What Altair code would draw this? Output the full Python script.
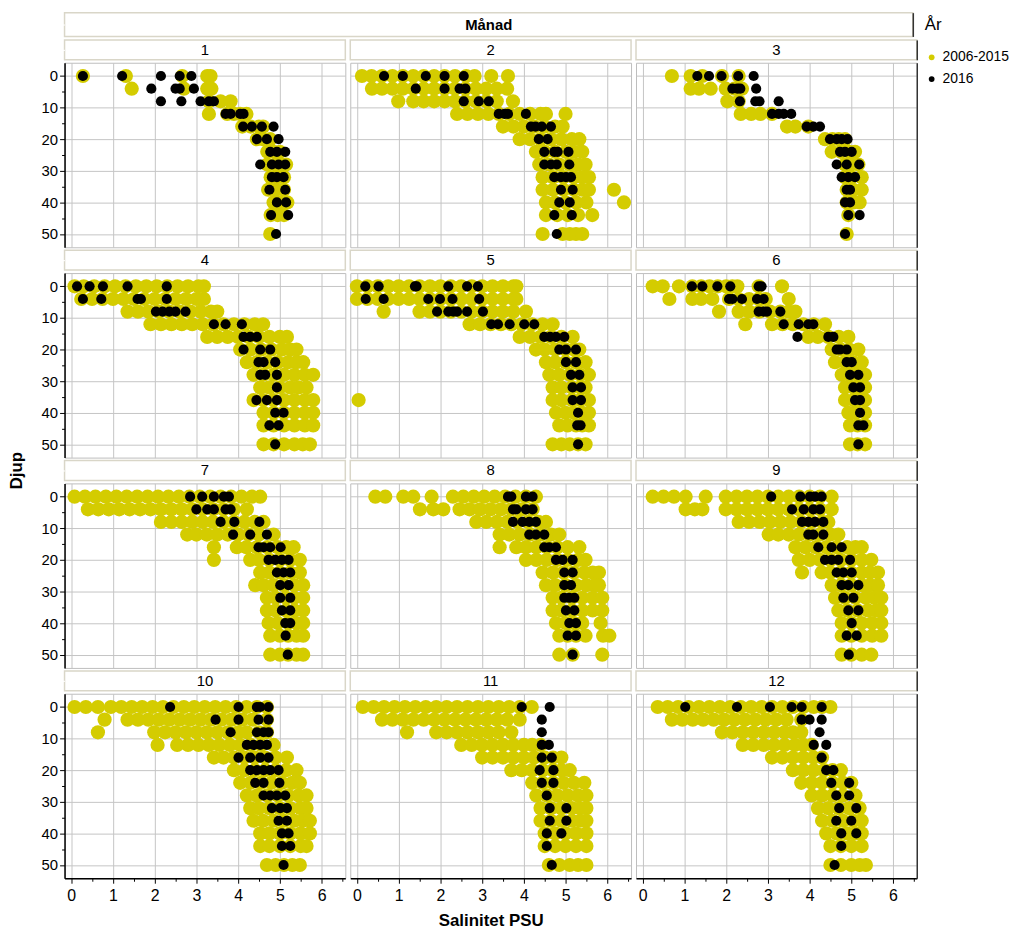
import altair as alt
import pandas as pd

MONTHS = list(range(1, 13))
GROUPS = ["2006-2015", "2016"]
XTICKS = [0, 0.5, 1, 1.5, 2, 2.5, 3, 3.5, 4, 4.5, 5, 5.5, 6, 6.5]
YTICKS = [0, 5, 10, 15, 20, 25, 30, 35, 40, 45, 50]

# ---- 2006-2015 (yellow) salinity values per depth, one dict per month ----
Y1 = {0: [0.28, 1.31, 2.66, 3.26, 3.34], 4: [1.45, 2.7, 3.26, 3.36], 8: [3.3, 3.58, 3.82],
      12: [3.3, 3.74, 3.9, 4.05, 4.2], 16: [4.1, 4.3, 4.5, 4.6], 20: [4.45, 4.6, 4.77],
      24: [4.7, 4.85, 5.0], 28: [4.7, 4.9, 5.05, 5.15], 32: [4.78, 4.95, 5.1],
      36: [4.72, 4.9, 5.1], 40: [4.85, 5.0, 5.18], 44: [4.78, 4.95, 5.1], 50: [4.77]}
Y2 = {0: [0.12, 0.35, 0.6, 0.85, 1.1, 1.35, 1.6, 1.85, 2.1, 2.35, 2.62, 2.82, 3.22, 3.62],
      4: [0.36, 0.6, 0.85, 1.1, 1.35, 1.6, 1.85, 2.1, 2.35, 2.6, 2.85, 3.1, 3.35, 3.6],
      8: [0.99, 1.35, 1.6, 1.85, 2.1, 2.35, 2.6, 2.85, 3.1, 3.35, 3.74],
      12: [2.4, 2.65, 2.9, 3.15, 3.4, 3.65, 3.9, 4.15, 4.4, 4.53, 5.0],
      16: [3.5, 3.75, 4.0, 4.25, 4.5, 4.75, 4.93], 20: [3.9, 4.15, 4.4, 4.65, 4.9, 5.15, 5.33],
      24: [4.29, 4.5, 4.75, 5.0, 5.2, 5.4], 28: [4.37, 4.6, 4.85, 5.1, 5.3, 5.48],
      32: [4.45, 4.7, 4.95, 5.2, 5.4, 5.56], 36: [4.45, 4.7, 4.95, 5.2, 5.4, 5.56, 6.16],
      40: [4.53, 4.75, 5.0, 5.25, 5.5, 6.4], 44: [4.53, 4.8, 5.05, 5.3, 5.64],
      50: [4.45, 4.93, 5.1, 5.25, 5.4]}
Y3 = {0: [0.7, 1.15, 1.43, 1.9, 2.3], 4: [1.15, 1.35, 1.63, 1.99, 2.2, 2.38], 8: [2.03, 2.3],
      12: [2.35, 2.6, 2.82, 3.1], 16: [3.46, 3.66, 3.97], 20: [4.37, 4.55, 4.7, 4.85],
      24: [4.53, 4.75, 4.95, 5.09], 28: [4.85, 5.0, 5.17], 32: [4.85, 5.0, 5.25],
      36: [4.89, 5.05, 5.25], 40: [4.89, 5.05, 5.2], 44: [4.93], 50: [4.89]}
Y4 = {0: [0.08, 0.3, 0.55, 0.8, 1.05, 1.3, 1.55, 1.8, 2.05, 2.3, 2.55, 2.8, 3.05, 3.18],
      4: [0.24, 0.5, 0.75, 1.0, 1.25, 1.5, 1.75, 2.0, 2.25, 2.5, 2.75, 3.0, 3.18],
      8: [1.35, 1.6, 1.85, 2.1, 2.35, 2.6, 2.85, 3.1, 3.35, 3.5],
      12: [1.9, 2.15, 2.4, 2.65, 2.9, 3.15, 3.4, 3.65, 3.9, 4.15, 4.4, 4.6],
      16: [3.26, 3.5, 3.75, 4.0, 4.25, 4.5, 4.75, 5.0, 5.17],
      20: [4.05, 4.3, 4.55, 4.8, 5.05, 5.25, 5.4], 24: [4.21, 4.45, 4.7, 4.95, 5.2, 5.4, 5.56],
      28: [4.37, 4.6, 4.85, 5.1, 5.35, 5.6, 5.8], 32: [4.53, 4.75, 5.0, 5.25, 5.45, 5.64],
      36: [4.37, 4.6, 4.85, 5.1, 5.35, 5.6, 5.8], 40: [4.61, 4.85, 5.1, 5.35, 5.6, 5.8],
      44: [4.61, 4.85, 5.1, 5.35, 5.6, 5.8], 50: [4.61, 4.85, 5.1, 5.35, 5.55, 5.72]}
Y5 = {0: [0.0, 0.25, 0.5, 0.75, 1.0, 1.25, 1.5, 1.75, 2.0, 2.25, 2.5, 2.75, 3.0, 3.25, 3.5, 3.75, 3.82],
      4: [0.0, 0.25, 0.5, 0.75, 1.0, 1.25, 1.5, 1.75, 2.0, 2.25, 2.5, 2.75, 3.0, 3.25, 3.5, 3.75, 3.82],
      8: [0.64, 1.5, 1.75, 2.0, 2.25, 2.5, 2.75, 3.0, 3.25, 3.5, 3.75, 4.05],
      12: [2.7, 2.95, 3.2, 3.45, 3.7, 3.95, 4.2, 4.45, 4.69],
      16: [3.9, 4.15, 4.4, 4.65, 4.9, 5.17], 20: [4.29, 4.5, 4.75, 5.0, 5.2, 5.33],
      24: [4.53, 4.75, 5.0, 5.25, 5.48], 28: [4.61, 4.85, 5.1, 5.35, 5.56],
      32: [4.69, 4.9, 5.15, 5.35, 5.48], 36: [0.04, 4.69, 4.9, 5.15, 5.35, 5.56],
      40: [4.77, 5.0, 5.2, 5.4, 5.56], 44: [4.85, 5.05, 5.25, 5.4, 5.56],
      50: [4.69, 4.9, 5.1, 5.3, 5.48]}
Y6 = {0: [0.24, 0.48, 0.87, 1.19, 1.4, 1.6, 1.8, 2.0, 2.15, 2.27, 2.78, 3.34],
      4: [0.64, 1.19, 1.4, 1.67, 2.07, 2.3, 2.55, 2.78, 2.95, 3.5],
      8: [1.83, 2.3, 2.55, 2.8, 3.05, 3.3, 3.5, 3.66], 12: [2.46, 3.1, 3.35, 3.6, 3.85, 4.1, 4.37],
      16: [3.97, 4.2, 4.45, 4.7, 4.93], 20: [4.53, 4.75, 4.95, 5.17], 24: [4.61, 4.85, 5.05, 5.25],
      28: [4.77, 4.95, 5.15, 5.33], 32: [4.85, 5.05, 5.2, 5.33], 36: [4.85, 5.05, 5.2, 5.33],
      40: [4.93, 5.1, 5.33], 44: [4.97, 5.15, 5.33], 50: [4.97, 5.15, 5.33]}
Y7 = {0: [0.08, 0.33, 0.58, 0.83, 1.08, 1.33, 1.58, 1.83, 2.08, 2.33, 2.58, 2.83, 3.08, 3.33, 3.58, 3.83, 4.08, 4.33, 4.53],
      4: [0.4, 0.65, 0.9, 1.15, 1.4, 1.65, 1.9, 2.15, 2.4, 2.65, 2.9, 3.15, 3.4, 3.65, 3.9, 4.21],
      8: [2.15, 2.4, 2.65, 2.9, 3.15, 3.4, 3.65, 3.9, 4.15, 4.4, 4.61],
      12: [2.78, 3.0, 3.25, 3.5, 3.75, 4.0, 4.25, 4.5, 4.85],
      16: [3.42, 3.97, 4.2, 4.45, 4.7, 4.95, 5.15, 5.33], 20: [3.42, 4.29, 4.5, 4.75, 5.0, 5.25, 5.48],
      24: [4.53, 4.75, 5.0, 5.25, 5.48], 28: [4.41, 4.61, 4.85, 5.1, 5.35, 5.56],
      32: [4.69, 4.9, 5.15, 5.35, 5.56], 36: [4.69, 4.9, 5.15, 5.35, 5.56],
      40: [4.73, 4.95, 5.2, 5.4, 5.56], 44: [4.77, 5.0, 5.2, 5.4, 5.56], 50: [4.77, 5.0, 5.2, 5.4, 5.56]}
Y8 = {0: [0.44, 0.68, 1.11, 1.35, 1.79, 2.3, 2.55, 2.8, 3.05, 3.3, 3.55, 3.8, 4.05, 4.29],
      4: [1.51, 1.83, 2.07, 2.46, 2.7, 2.95, 3.2, 3.45, 3.7, 3.95, 4.21],
      8: [2.86, 3.1, 3.35, 3.6, 3.85, 4.1, 4.35, 4.53], 12: [3.42, 3.65, 3.9, 4.15, 4.4, 4.65, 4.85],
      16: [3.42, 3.82, 4.05, 4.3, 4.55, 4.8, 5.05, 5.33], 20: [4.05, 4.3, 4.55, 4.8, 5.05, 5.3, 5.48],
      24: [4.45, 4.7, 4.95, 5.2, 5.45, 5.65, 5.8], 28: [4.53, 4.75, 5.0, 5.25, 5.5, 5.7, 5.8],
      32: [4.69, 4.9, 5.15, 5.4, 5.65, 5.88], 36: [4.69, 4.9, 5.15, 5.4, 5.65, 5.88],
      40: [4.77, 5.0, 5.2, 5.4, 5.84], 44: [4.85, 5.05, 5.25, 5.48, 5.9, 6.05], 50: [4.85, 5.17, 5.88]}
Y9 = {0: [0.24, 0.5, 0.75, 1.03, 1.51, 1.99, 2.25, 2.5, 2.75, 3.0, 3.25, 3.5, 3.75, 4.0, 4.25, 4.53],
      4: [1.03, 1.25, 1.43, 1.99, 2.25, 2.5, 2.75, 3.0, 3.25, 3.5, 3.75, 4.0, 4.25, 4.53],
      8: [2.3, 2.55, 2.8, 3.05, 3.3, 3.55, 3.8, 4.05, 4.3, 4.45],
      12: [3.02, 3.25, 3.5, 3.75, 4.0, 4.25, 4.5, 4.69],
      16: [3.66, 3.9, 4.15, 4.4, 4.65, 4.9, 5.1, 5.25], 20: [3.74, 4.0, 4.25, 4.5, 4.75, 5.0, 5.25, 5.48],
      24: [3.82, 4.29, 4.5, 4.75, 5.0, 5.25, 5.45, 5.64], 28: [4.53, 4.75, 5.0, 5.25, 5.45, 5.64],
      32: [4.61, 4.85, 5.1, 5.35, 5.55, 5.72], 36: [4.69, 4.9, 5.15, 5.4, 5.6, 5.72],
      40: [4.77, 5.0, 5.25, 5.5, 5.72], 44: [4.77, 5.0, 5.25, 5.5, 5.72], 50: [4.77, 5.0, 5.25, 5.48]}
Y10 = {0: [0.08, 0.35, 0.64, 0.95, 1.2, 1.45, 1.7, 1.95, 2.2, 2.45, 2.7, 2.95, 3.2, 3.45, 3.7, 3.95, 4.2, 4.45, 4.69],
       4: [0.8, 1.35, 1.6, 1.85, 2.1, 2.35, 2.6, 2.85, 3.1, 3.35, 3.6, 3.85, 4.1, 4.35, 4.69],
       8: [0.64, 1.99, 2.25, 2.5, 2.75, 3.0, 3.25, 3.5, 3.75, 4.0, 4.21, 4.5, 4.69],
       12: [2.07, 2.54, 2.8, 3.05, 3.3, 3.55, 3.8, 4.05, 4.3, 4.55, 4.85],
       16: [3.42, 3.65, 3.9, 4.15, 4.4, 4.65, 4.9, 5.17], 20: [3.9, 4.15, 4.4, 4.65, 4.9, 5.15, 5.4],
       24: [4.05, 4.3, 4.55, 4.8, 5.05, 5.3, 5.48], 28: [4.21, 4.45, 4.7, 4.95, 5.2, 5.45, 5.64],
       32: [4.29, 4.5, 4.75, 5.0, 5.25, 5.5, 5.64], 36: [4.37, 4.6, 4.85, 5.1, 5.35, 5.55, 5.72],
       40: [4.53, 4.75, 5.0, 5.25, 5.5, 5.72], 44: [4.53, 4.75, 5.0, 5.25, 5.5, 5.64],
       50: [4.69, 4.9, 5.1, 5.3, 5.48]}
Y11 = {0: [0.14, 0.4, 0.65, 0.9, 1.15, 1.4, 1.65, 1.9, 2.15, 2.4, 2.65, 2.9, 3.15, 3.4, 3.65, 3.9, 4.19],
       4: [0.6, 0.85, 1.1, 1.35, 1.6, 1.85, 2.1, 2.35, 2.6, 2.85, 3.1, 3.35, 3.6, 3.9],
       8: [1.2, 1.9, 2.15, 2.4, 2.65, 2.9, 3.15, 3.4, 3.7], 12: [2.5, 2.75, 3.0, 3.25, 3.5, 3.75, 4.0, 4.2, 4.4],
       16: [3.0, 3.25, 3.5, 3.75, 4.0, 4.25, 4.5, 4.7, 4.9], 20: [3.7, 3.95, 4.2, 4.45, 4.7, 4.9, 5.1],
       24: [4.2, 4.45, 4.7, 4.95, 5.2, 5.45], 28: [4.3, 4.55, 4.8, 5.05, 5.3, 5.5],
       32: [4.4, 4.65, 4.9, 5.15, 5.35, 5.5], 36: [4.4, 4.65, 4.9, 5.15, 5.35, 5.5],
       40: [4.5, 4.75, 5.0, 5.25, 5.5], 44: [4.5, 4.75, 5.0, 5.25, 5.5], 50: [4.6, 4.85, 5.1, 5.3, 5.5]}
Y12 = {0: [0.36, 0.6, 0.85, 1.1, 1.35, 1.6, 1.85, 2.1, 2.35, 2.6, 2.85, 3.1, 3.35, 3.6, 3.85, 4.1, 4.3, 4.5],
       4: [0.7, 0.95, 1.2, 1.45, 1.7, 1.95, 2.2, 2.45, 2.7, 2.95, 3.2, 3.45, 3.8],
       8: [1.9, 2.15, 2.4, 2.65, 2.9, 3.15, 3.4, 3.6, 3.8], 12: [2.4, 2.65, 2.9, 3.15, 3.4, 3.65, 3.85, 4.05],
       16: [3.1, 3.35, 3.6, 3.85, 4.1, 4.3], 20: [3.6, 3.85, 4.1, 4.35, 4.55, 4.75],
       24: [3.8, 4.05, 4.3, 4.55, 4.8, 5.0], 28: [4.05, 4.3, 4.55, 4.8, 5.1],
       32: [4.2, 4.45, 4.7, 4.95, 5.2], 36: [4.3, 4.55, 4.8, 5.05, 5.25],
       40: [4.4, 4.65, 4.9, 5.1, 5.25], 44: [4.5, 4.75, 5.0, 5.25], 50: [4.5, 4.75, 5.0, 5.2, 5.35]}

# ---- 2016 (black) salinity values per depth ----
B1 = {0: [0.28, 1.22, 2.15, 2.6, 2.88], 4: [1.92, 2.5, 2.6, 2.94], 8: [2.15, 2.64, 3.1, 3.3, 3.42],
      12: [3.7, 3.82, 4.05, 4.13], 16: [4.12, 4.33, 4.57, 4.85], 20: [4.45, 4.69, 4.97],
      24: [4.77, 4.93, 5.13], 28: [4.53, 4.81, 4.97, 5.13], 32: [4.81, 4.93, 5.09],
      36: [4.75, 5.13], 40: [4.93, 5.15], 44: [4.79, 5.2], 50: [4.91]}
B2 = {0: [0.65, 1.1, 1.65, 2.1, 2.56], 4: [1.41, 2.1, 2.46, 2.6], 8: [2.56, 2.92, 3.16],
      12: [3.4, 3.54, 3.62, 4.05], 16: [4.17, 4.28, 4.43, 4.65], 20: [4.36, 4.57],
      24: [4.49, 4.73, 4.81, 5.07], 28: [4.49, 4.65, 4.79, 5.09], 32: [4.73, 4.89, 5.01, 5.13],
      36: [4.89, 5.17], 40: [4.85, 5.1], 44: [4.73, 5.15], 50: [4.79]}
B3 = {0: [1.31, 1.59, 1.89, 2.29, 2.66], 4: [2.15, 2.27, 2.34, 2.72], 8: [2.33, 2.7, 2.8, 3.26],
      12: [3.1, 3.26, 3.38, 3.56], 16: [3.93, 4.09, 4.25], 20: [4.49, 4.65, 4.77, 4.91],
      24: [4.73, 4.85, 5.01], 28: [4.65, 4.89, 5.19], 32: [4.77, 4.93, 5.09], 36: [4.89, 4.97],
      40: [4.85, 4.97], 44: [4.93, 5.2], 50: [4.85]}
B4 = {0: [0.14, 0.44, 0.76, 1.35, 2.29], 4: [0.28, 0.72, 1.59, 1.67, 2.29],
      8: [2.03, 2.19, 2.35, 2.5, 2.74], 12: [3.42, 3.7, 4.09], 16: [4.13, 4.29, 4.45],
      20: [4.13, 4.53, 4.77], 24: [4.49, 4.61, 4.89], 28: [4.53, 4.65, 4.93], 32: [4.93],
      36: [4.44, 4.69, 4.93], 40: [4.89, 5.09], 44: [4.75, 4.97], 50: [4.89]}
B5 = {0: [0.2, 0.52, 1.39, 1.43, 2.19, 2.64, 2.9], 4: [0.21, 0.64, 1.71, 1.99, 2.29, 2.93],
      8: [1.92, 2.19, 2.31, 2.4, 2.64, 3.02], 12: [3.22, 3.38, 3.66, 4.01, 4.25],
      16: [4.49, 4.63, 4.77, 4.97], 20: [4.85, 5.01, 5.25], 24: [5.01, 5.25], 28: [5.13, 5.33],
      32: [5.17, 5.37], 36: [5.17, 5.37], 40: [5.3], 44: [5.28, 5.36], 50: [5.3]}
B6 = {0: [1.18, 1.43, 1.79, 2.1, 2.78, 2.85], 4: [2.07, 2.15, 2.38, 2.74, 2.9],
      8: [2.78, 2.9, 2.98, 3.3], 12: [3.38, 3.74, 3.97, 4.09], 16: [3.71, 4.45, 4.57],
      20: [4.65, 4.73, 4.89], 24: [4.89, 5.01], 28: [4.97, 5.17], 32: [5.05, 5.21],
      36: [5.09, 5.21], 40: [5.21], 44: [5.17, 5.29], 50: [5.17]}
B7 = {0: [2.85, 3.14, 3.42, 3.66, 3.78], 4: [3.0, 3.26, 3.42, 3.7, 3.82], 8: [3.58, 3.91, 4.51],
      12: [3.88, 4.29, 4.69], 16: [4.49, 4.61, 4.77, 5.02], 20: [4.73, 4.89, 5.05, 5.21],
      24: [4.93, 5.09, 5.25], 28: [5.01, 5.21], 32: [5.01, 5.25], 36: [5.05, 5.25],
      40: [5.13, 5.25], 44: [5.14], 50: [5.19]}
B8 = {0: [3.62, 3.7, 4.05, 4.21], 4: [3.74, 3.82, 4.05, 4.21], 8: [3.74, 3.97, 4.13, 4.29],
      12: [4.13, 4.29, 4.49], 16: [4.49, 4.61, 4.77], 20: [4.77, 4.93, 5.17], 24: [4.97, 5.17],
      28: [4.97, 5.13], 32: [4.97, 5.09, 5.21], 36: [5.01, 5.21], 40: [5.09, 5.25],
      44: [5.05, 5.25], 50: [5.17]}
B9 = {0: [3.08, 3.78, 4.01, 4.13, 4.29], 4: [3.58, 3.86, 4.09, 4.25], 8: [3.82, 3.97, 4.13, 4.33],
      12: [3.97, 4.09, 4.33], 16: [4.21, 4.53, 4.77], 20: [4.37, 4.53, 4.69, 4.97],
      24: [4.65, 4.81, 5.01], 28: [4.77, 4.93, 5.17], 32: [4.81, 5.05], 36: [4.93, 5.17],
      40: [5.01], 44: [4.89, 5.13], 50: [4.94]}
B10 = {0: [2.37, 4.01, 4.45, 4.53, 4.73], 4: [3.46, 4.01, 4.49, 4.73], 8: [3.82, 4.45, 4.61, 4.73],
       12: [4.21, 4.37, 4.53, 4.69], 16: [4.01, 4.29, 4.53, 4.73], 20: [4.29, 4.45, 4.61, 4.77, 4.97],
       24: [4.41, 4.61, 4.99], 28: [4.61, 4.77, 4.93, 5.13], 32: [4.81, 5.01, 5.17],
       36: [4.97, 5.17], 40: [5.05, 5.21], 44: [5.05, 5.25], 50: [5.09]}
B11 = {0: [3.95, 4.62], 4: [4.43], 8: [4.43], 12: [4.43, 4.6], 16: [4.43, 4.67], 20: [4.38, 4.71],
       24: [4.43, 4.71], 28: [4.55], 32: [4.62, 5.02], 36: [4.62, 5.02], 40: [4.55, 4.9],
       44: [4.55], 50: [4.67]}
B12 = {0: [1.02, 2.26, 3.05, 3.57, 3.81, 4.29], 4: [3.81, 4.0, 4.29], 8: [4.24], 12: [4.1, 4.4],
       16: [4.29], 20: [4.4, 4.57], 24: [4.52, 4.95], 28: [4.64, 4.95], 32: [4.71, 5.12],
       36: [4.64, 5.0], 40: [4.76, 5.12], 44: [4.76], 50: [4.6]}

YELLOW = {1: Y1, 2: Y2, 3: Y3, 4: Y4, 5: Y5, 6: Y6, 7: Y7, 8: Y8, 9: Y9, 10: Y10, 11: Y11, 12: Y12}
BLACK = {1: B1, 2: B2, 3: B3, 4: B4, 5: B5, 6: B6, 7: B7, 8: B8, 9: B9, 10: B10, 11: B11, 12: B12}

rows = []
for grp, source in ((GROUPS[0], YELLOW), (GROUPS[1], BLACK)):
    for m in MONTHS:
        for depth, vals in source[m].items():
            for v in vals:
                rows.append({"month": m, "depth": depth, "sal": v, "grp": grp})
df = pd.DataFrame(rows)

FONT = "Liberation Sans Narrow, Liberation Sans, Arial, sans-serif"
W, H, SH = 283, 186, 20
TOTAL_W = 3 * W + 2 * 3
YCOL = "#d4cc00"
GRID = "#c4c4c4"
STRIP_STROKE = "#d9d6c8"
EDGE = "#333333"

color = alt.Color("grp:N", scale=alt.Scale(domain=GROUPS, range=[YCOL, "#000000"]),
                  legend=alt.Legend(title="År", symbolType="circle", symbolSize=34,
                                    symbolStrokeWidth=0))
size = alt.condition(alt.datum.grp == GROUPS[1], alt.value(105), alt.value(205))

XMAJOR = "datum.value % 1 === 0"
YMAJOR = "datum.value % 10 === 0"
XSCALE = alt.Scale(domain=[-0.16, 6.57], nice=False, zero=False)
YSCALE = alt.Scale(domain=[-4.2, 54.2], reverse=True, nice=False, zero=False)
MIDSCALE = alt.Scale(domain=[0, 1], nice=False, zero=False)


def dummy_axis():
    return alt.Axis(values=[0.5], labelExpr="'50'", labelColor="white", tickColor="white",
                    tickSize=5, domain=False, grid=False, title=None, labelFontSize=15,
                    labelPadding=2)


def right_edge_axis():
    return alt.Axis(orient="right", labels=False, ticks=False, grid=False, domain=True,
                    domainColor=EDGE, domainWidth=1.5, title=None)


def plot(m, r, c):
    bottom = r == 3
    left = c == 0
    xa = dict(values=XTICKS, grid=True, gridColor=GRID,
              gridOpacity={"condition": {"test": XMAJOR, "value": 1}, "value": 0},
              labels=bottom, ticks=bottom, domain=bottom, labelFlush=False, labelOverlap=False,
              title="Salinitet PSU" if (bottom and c == 1) else None)
    if bottom:
        xa.update(labelExpr=XMAJOR + " ? '' + datum.value : ''", labelFontSize=16,
                  tickSize={"condition": {"test": XMAJOR, "value": 5}, "value": 3},
                  domainColor="black", domainWidth=1.5, titlePadding=10, labelPadding=4)
    ya = dict(values=YTICKS, grid=True, gridColor=GRID,
              gridOpacity={"condition": {"test": YMAJOR, "value": 1}, "value": 0},
              labels=left, ticks=left, domain=left, labelOverlap=False, labelFlush=False,
              title=None)
    if left:
        ya.update(labelExpr=YMAJOR + " ? '' + datum.value : ''", labelFontSize=15, labelPadding=2,
                  tickSize={"condition": {"test": YMAJOR, "value": 5}, "value": 3},
                  domainColor="black", domainWidth=1.5)
    base = alt.Chart(df).transform_filter(alt.datum.month == m)
    points = base.mark_circle(opacity=1, strokeWidth=0).encode(
        x=alt.X("sal:Q", scale=XSCALE, axis=alt.Axis(**xa)),
        y=alt.Y("depth:Q", scale=YSCALE, axis=alt.Axis(**ya)),
        color=color,
        size=size,
    )
    view = alt.ViewBackground(stroke="#bdbdbd", strokeWidth=1)
    if c == 2:
        ghost = base.mark_point(opacity=0).encode(
            x=alt.X("sal:Q", scale=XSCALE, axis=alt.Axis(**xa)),
            y=alt.Y("depth:Q", scale=YSCALE, axis=right_edge_axis()),
        )
        return (alt.layer(points, ghost).resolve_axis(y="independent")
                .properties(width=W, height=H, view=view))
    return points.properties(width=W, height=H, view=view)


strip_df = pd.DataFrame({"month": MONTHS, "lab": [str(m) for m in MONTHS], "mid": [0.5] * 12})


def strip(m, c):
    if c == 0:
        ax = dummy_axis()
    elif c == 2:
        ax = right_edge_axis()
    else:
        ax = None
    return (
        alt.Chart(strip_df)
        .transform_filter(alt.datum.month == m)
        .mark_text(font=FONT, fontSize=15, color="black", baseline="middle")
        .encode(text="lab:N", x=alt.X("mid:Q", scale=MIDSCALE, axis=None),
                y=alt.Y("mid:Q", scale=MIDSCALE, axis=ax))
        .properties(width=W, height=SH,
                    view=alt.ViewBackground(stroke=STRIP_STROKE, strokeWidth=1.5, fill="white"))
    )


cells = []
for r in range(4):
    for c in range(3):
        cells.append(strip(r * 3 + c + 1, c))
    for c in range(3):
        cells.append(plot(r * 3 + c + 1, r, c))

grid = alt.concat(*cells, columns=3, spacing={"row": 1, "column": 3})

manad_base = alt.Chart(pd.DataFrame({"t": ["Månad"], "mid": [0.5]}))
manad_text = manad_base.mark_text(font=FONT, fontSize=15, fontWeight="bold", color="black",
                                  baseline="middle").encode(
    text="t:N", x=alt.X("mid:Q", scale=MIDSCALE, axis=None),
    y=alt.Y("mid:Q", scale=MIDSCALE, axis=dummy_axis()))
manad_edge = manad_base.mark_point(opacity=0).encode(
    x=alt.X("mid:Q", scale=MIDSCALE, axis=None),
    y=alt.Y("mid:Q", scale=MIDSCALE, axis=right_edge_axis()))
manad = (alt.layer(manad_text, manad_edge).resolve_axis(y="independent")
         .properties(width=TOTAL_W, height=24,
                     view=alt.ViewBackground(stroke=STRIP_STROKE, strokeWidth=1.5, fill="white")))

chart = (
    alt.vconcat(manad, grid, spacing=1.5)
    .properties(
        title=alt.TitleParams("Djup", orient="left", anchor="middle", fontSize=17,
                              fontWeight="bold", font=FONT, color="black", offset=14),
        padding={"left": 0, "top": 0, "right": 2, "bottom": 0},
    )
    .configure_axis(labelFont=FONT, titleFont=FONT, labelColor="black", titleColor="black",
                    tickColor="black", titleFontSize=17, titleFontWeight="bold")
    .configure_legend(titleFont=FONT, labelFont=FONT, titleFontSize=17, titleFontWeight="normal",
                      labelFontSize=14, labelColor="black", titleColor="black", offset=3,
                      padding=4, rowPadding=8, titlePadding=17)
)

chart.save("out.html", embed_options={"renderer": "svg", "actions": False})
